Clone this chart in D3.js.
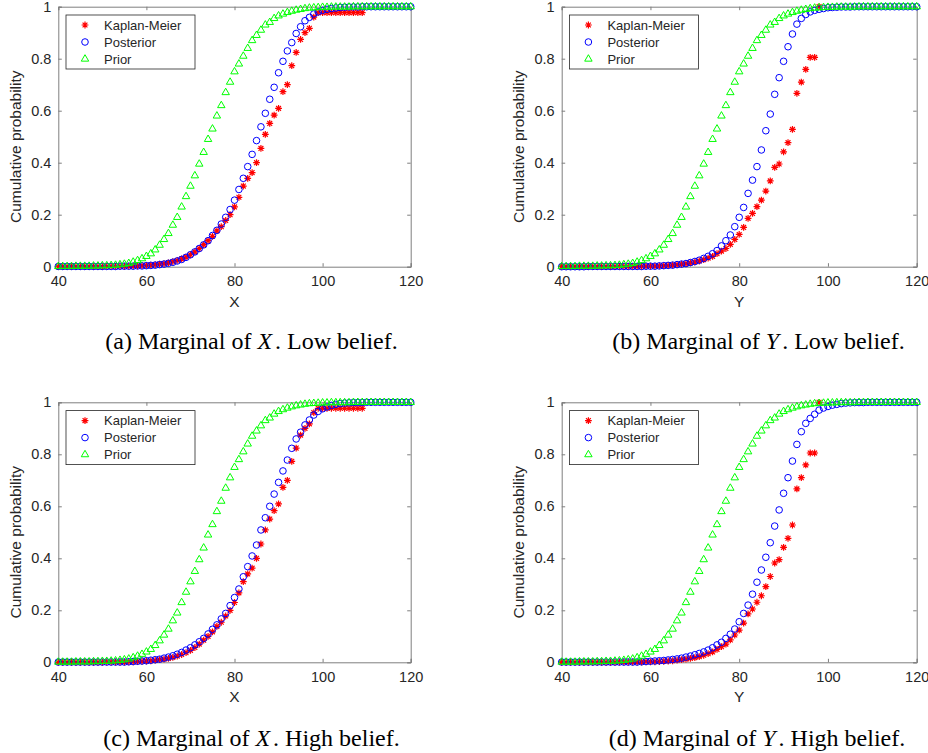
<!DOCTYPE html>
<html><head><meta charset="utf-8">
<script src="https://cdn.jsdelivr.net/npm/d3@7"></script>
<style>
html,body{margin:0;padding:0;background:#fff;}
svg{display:block;}
</style></head>
<body>
<svg id="chart" width="928" height="753"></svg>
<script>
// ---------------- data ----------------
const xGrid = d3.range(40, 121);          // integer grid 40..120
const xTicks = [40, 60, 80, 100, 120];
const yTicks = [0, 0.2, 0.4, 0.6, 0.8, 1];
const seriesNames = ["Kaplan-Meier", "Posterior", "Prior"];

// Prior (same in all panels), x = 40..120
const prior = [
 0.001,0.001,0.001,0.001,0.002,0.002,0.002,0.002,0.003,0.003,
 0.004,0.004,0.005,0.006,0.008,0.010,0.013,0.018,0.024,0.031,
 0.040,0.050,0.065,0.083,0.105,0.128,0.160,0.190,0.230,0.270,
 0.310,0.350,0.395,0.440,0.490,0.530,0.580,0.620,0.670,0.710,
 0.750,0.780,0.810,0.840,0.870,0.890,0.910,0.930,0.940,0.955,
 0.965,0.972,0.978,0.983,0.987,0.990,0.993,0.995,0.996,0.997,
 0.998,0.998,0.999,0.999,0.999,0.999,0.999,1.000,1.000,1.000,
 1.000,1.000,1.000,1.000,1.000,1.000,1.000,1.000,1.000,1.000,1.000];

// Posterior, X low belief (a), x = 40..120
const postXLow = [
 0.001,0.001,0.001,0.001,0.001,0.001,0.001,0.001,0.001,0.001,
 0.001,0.001,0.001,0.001,0.002,0.002,0.002,0.002,0.003,0.003,
 0.004,0.005,0.006,0.008,0.010,0.013,0.017,0.022,0.028,0.036,
 0.046,0.057,0.070,0.084,0.100,0.120,0.140,0.164,0.190,0.220,
 0.256,0.297,0.340,0.385,0.432,0.485,0.538,0.590,0.644,0.690,
 0.746,0.790,0.830,0.862,0.897,0.923,0.946,0.959,0.972,0.980,
 0.986,0.990,0.993,0.995,0.997,0.998,0.999,0.999,0.999,1.000,
 1.000,1.000,1.000,1.000,1.000,1.000,1.000,1.000,1.000,1.000,1.000];

// Kaplan-Meier, X, x = 40..109
const kmX = [
 0.000,0.000,0.000,0.000,0.000,0.000,0.000,0.000,0.000,0.000,
 0.000,0.001,0.001,0.001,0.001,0.001,0.002,0.002,0.003,0.004,
 0.005,0.006,0.008,0.010,0.012,0.015,0.019,0.024,0.030,0.037,
 0.046,0.057,0.070,0.085,0.100,0.117,0.138,0.154,0.178,0.200,
 0.230,0.267,0.310,0.340,0.362,0.400,0.455,0.509,0.551,0.583,
 0.609,0.673,0.700,0.773,0.824,0.874,0.900,0.917,0.960,0.977,
 0.977,0.977,0.977,0.977,0.977,0.977,0.977,0.977,0.977,0.977];

// Posterior, Y low belief (b), x = 40..120
const postYLow = [
 0.000,0.000,0.000,0.000,0.000,0.000,0.001,0.001,0.001,0.001,
 0.001,0.001,0.001,0.001,0.001,0.001,0.001,0.001,0.001,0.002,
 0.002,0.002,0.003,0.004,0.005,0.006,0.008,0.010,0.012,0.016,
 0.020,0.025,0.032,0.040,0.050,0.062,0.080,0.100,0.122,0.154,
 0.190,0.228,0.282,0.333,0.385,0.449,0.523,0.587,0.663,0.727,
 0.790,0.846,0.895,0.933,0.955,0.970,0.980,0.986,0.990,0.993,
 0.996,0.997,0.998,0.999,0.999,0.999,1.000,1.000,1.000,1.000,
 1.000,1.000,1.000,1.000,1.000,1.000,1.000,1.000,1.000,1.000,1.000];

// Kaplan-Meier, Y, x = 40..98
const kmY = [
 0.000,0.000,0.000,0.000,0.000,0.000,0.000,0.000,0.000,0.000,
 0.000,0.000,0.000,0.001,0.001,0.001,0.001,0.001,0.001,0.002,
 0.002,0.002,0.003,0.004,0.005,0.006,0.008,0.010,0.012,0.015,
 0.018,0.022,0.027,0.033,0.040,0.050,0.060,0.070,0.086,0.105,
 0.124,0.151,0.186,0.205,0.231,0.256,0.291,0.330,0.382,0.395,
 0.442,0.477,0.528,0.667,0.710,0.759,0.805,0.805,1.000];

// Posterior, X high belief (c), x = 40..120
const postXHigh = [
 0.001,0.001,0.001,0.001,0.001,0.001,0.001,0.001,0.001,0.001,
 0.001,0.001,0.001,0.001,0.001,0.001,0.002,0.003,0.004,0.005,
 0.006,0.008,0.010,0.012,0.016,0.020,0.025,0.031,0.038,0.047,
 0.056,0.067,0.079,0.092,0.109,0.127,0.144,0.167,0.188,0.218,
 0.249,0.282,0.329,0.368,0.409,0.451,0.509,0.556,0.600,0.647,
 0.692,0.736,0.778,0.823,0.859,0.885,0.913,0.932,0.951,0.965,
 0.975,0.982,0.988,0.992,0.995,0.997,0.998,0.999,0.999,0.999,
 1.000,1.000,1.000,1.000,1.000,1.000,1.000,1.000,1.000,1.000,1.000];

// Posterior, Y high belief (d), x = 40..120
const postYHigh = [
 0.001,0.001,0.001,0.001,0.001,0.001,0.001,0.001,0.001,0.001,
 0.001,0.001,0.001,0.001,0.001,0.001,0.001,0.001,0.002,0.003,
 0.004,0.005,0.006,0.007,0.009,0.011,0.013,0.016,0.020,0.024,
 0.029,0.034,0.040,0.047,0.056,0.067,0.077,0.092,0.108,0.128,
 0.156,0.188,0.220,0.262,0.308,0.355,0.404,0.460,0.524,0.586,
 0.650,0.710,0.774,0.838,0.887,0.919,0.938,0.954,0.970,0.978,
 0.984,0.989,0.992,0.995,0.997,0.998,0.999,0.999,0.999,1.000,
 1.000,1.000,1.000,1.000,1.000,1.000,1.000,1.000,1.000,1.000,1.000];

const panelLabels = ["(a)", "(b)", "(c)", "(d)"];
const panelVars = ["X", "Y", "X", "Y"];
const panelBeliefs = ["Low belief.", "Low belief.", "High belief.", "High belief."];
const panelKM = [kmX, kmY, kmX, kmY];
const panelPost = [postXLow, postYLow, postXHigh, postYHigh];

// ---------------- drawing ----------------
const svg = d3.select("#chart");
const boxes = [
  {x0: 58.3, x1: 410.7, y0: 6.7, y1: 266.7, cap: 251.5, capY: 349},
  {x0: 561.7, x1: 916.7, y0: 6.7, y1: 266.7, cap: 758.5, capY: 349},
  {x0: 58.3, x1: 410.7, y0: 402.3, y1: 662.3, cap: 251.5, capY: 746},
  {x0: 561.7, x1: 916.7, y0: 402.3, y1: 662.3, cap: 757, capY: 746}
];
const AX = "#7f7f7f", TXT = "#262626";
const sansFont = "'Liberation Sans', Arial, Helvetica, sans-serif";
const serifFont = "'Liberation Serif', 'Times New Roman', Times, serif";

function starPath(r) {
  const d = r * 0.7071;
  return `M${-r},0L${r},0M0,${-r}L0,${r}M${-d},${-d}L${d},${d}M${-d},${d}L${d},${-d}`;
}
const triPath = d3.symbol().type(d3.symbolTriangle).size(24)();

function drawMarkers(g, pts, kind, x, y) {
  const sel = g.selectAll(null).data(pts).enter();
  if (kind === "km") {
    sel.append("path").attr("d", starPath(3.4))
      .attr("transform", d => `translate(${x(d[0])},${y(d[1])})`)
      .attr("stroke", "#ff0000").attr("stroke-width", 1.2).attr("fill", "none");
  } else if (kind === "post") {
    sel.append("circle").attr("cx", d => x(d[0])).attr("cy", d => y(d[1])).attr("r", 3.3)
      .attr("stroke", "#0000ff").attr("stroke-width", 1).attr("fill", "none");
  } else {
    sel.append("path").attr("d", triPath)
      .attr("transform", d => `translate(${x(d[0])},${y(d[1])})`)
      .attr("stroke", "#00ff00").attr("stroke-width", 1).attr("fill", "none");
  }
}

boxes.forEach((b, i) => {
  const x = d3.scaleLinear().domain([40, 120]).range([b.x0, b.x1]);
  const y = d3.scaleLinear().domain([0, 1]).range([b.y1, b.y0]);
  const g = svg.append("g");

  const tickLen = 3.5;
  const bottom = g.append("g").attr("transform", `translate(0,${b.y1})`)
    .call(d3.axisBottom(x).tickValues(xTicks).tickSize(-tickLen).tickPadding(9).tickFormat(d3.format("d")));
  const top = g.append("g").attr("transform", `translate(0,${b.y0})`)
    .call(d3.axisTop(x).tickValues(xTicks).tickSize(-tickLen).tickFormat(""));
  const left = g.append("g").attr("transform", `translate(${b.x0},0)`)
    .call(d3.axisLeft(y).tickValues(yTicks).tickSize(-tickLen).tickPadding(7).tickFormat(d => d === 0 || d === 1 ? d3.format("d")(d) : d3.format(".1f")(d)));
  const right = g.append("g").attr("transform", `translate(${b.x1},0)`)
    .call(d3.axisRight(y).tickValues(yTicks).tickSize(-tickLen).tickFormat(""));
  [bottom, top, left, right].forEach(a => {
    a.select(".domain").attr("stroke", AX).attr("stroke-width", 1);
    a.selectAll(".tick line").attr("stroke", AX).attr("stroke-width", 1);
    a.selectAll(".tick text").attr("fill", TXT).style("font-family", sansFont).style("font-size", "14.5px");
  });

  // axis titles
  g.append("text").attr("x", (b.x0 + b.x1) / 2).attr("y", b.y1 + 40)
    .attr("text-anchor", "middle").attr("fill", TXT)
    .style("font-family", sansFont).style("font-size", "15.5px").text(panelVars[i]);
  g.append("text")
    .attr("transform", `translate(${b.x0 - 37.3},${(b.y0 + b.y1) / 2 + 10}) rotate(-90)`)
    .attr("text-anchor", "middle").attr("fill", TXT)
    .style("font-family", sansFont).style("font-size", "15.5px").text("Cumulative probability");

  // data
  const km = panelKM[i].map((v, k) => [xGrid[k], v]);
  const post = panelPost[i].map((v, k) => [xGrid[k], v]);
  const pr = prior.map((v, k) => [xGrid[k], v]);
  drawMarkers(g.append("g"), km, "km", x, y);
  drawMarkers(g.append("g"), post, "post", x, y);
  drawMarkers(g.append("g"), pr, "prior", x, y);

  // legend
  const lg = g.append("g").attr("transform", `translate(${b.x0 + 7.7},${b.y0 + 8.3})`);
  lg.append("rect").attr("width", 129).attr("height", 54)
    .attr("fill", "#fff").attr("stroke", "#262626").attr("stroke-width", 0.8);
  const kinds = ["km", "post", "prior"];
  seriesNames.forEach((name, k) => {
    const row = lg.append("g").attr("transform", `translate(0,${10 + k * 17})`);
    const fx = d3.scaleLinear().domain([0, 1]).range([19, 20]);
    const fy = d3.scaleLinear().domain([0, 1]).range([0, 1]);
    drawMarkers(row, [[0, 0]], kinds[k], fx, fy);
    row.append("text").attr("x", 38).attr("y", 0).attr("dy", "0.35em")
      .attr("fill", TXT).style("font-family", sansFont).style("font-size", "13px").text(name);
  });

  // caption
  const cap = svg.append("text").attr("x", b.cap).attr("y", b.capY)
    .attr("text-anchor", "middle").attr("fill", "#000")
    .style("font-family", serifFont).style("font-size", "24px");
  cap.append("tspan").text(panelLabels[i] + " Marginal of ");
  cap.append("tspan").style("font-style", "italic").text(panelVars[i]);
  cap.append("tspan").attr("dx", 3).text(". " + panelBeliefs[i]);
});
</script>
</body></html>
